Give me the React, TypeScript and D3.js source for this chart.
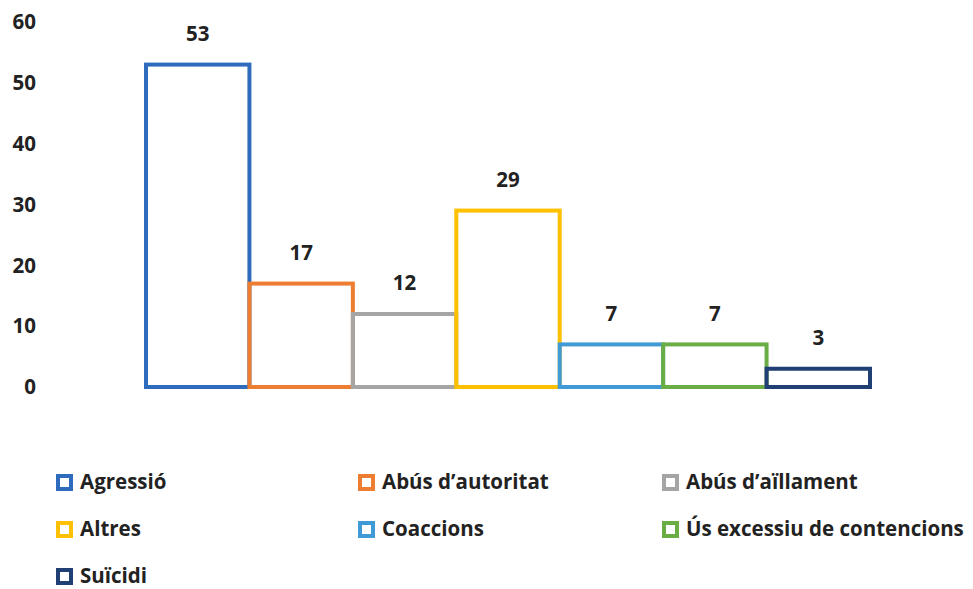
import React from "react";
import * as d3 from "d3";

const categories = ["Agressió", "Abús d’autoritat", "Abús d’aïllament", "Altres", "Coaccions", "Ús excessiu de contencions", "Suïcidi"];
const values = [53, 17, 12, 29, 7, 7, 3];
const colors = ["#2f6bbd", "#ed7d31", "#a5a5a5", "#ffc000", "#3f9ad6", "#6aad45", "#1f3f75"];
const yTicks = [0, 10, 20, 30, 40, 50, 60];

const W = 973, H = 589;
const font = "'Open Sans', 'Liberation Sans', sans-serif";
const fs = 20.5;

export default function App() {
  const x = d3.scaleBand<string>().domain(categories).range([146, 870]).paddingInner(0).paddingOuter(0);
  const y = d3.scaleLinear().domain([0, 60]).range([387, 22]);
  const legendCols = [56, 358, 662];
  const legendRows = [482, 529, 576];
  return (
    <svg width={W} height={H} style={{ position: "absolute", left: 0, top: 0, background: "#fff" }}>
      {yTicks.map((t) => (
        <text key={t} x={36} y={y(t)} dy="0.35em" textAnchor="end" fontFamily={font} fontWeight={700} fontSize={fs} fill="#222">
          {t}
        </text>
      ))}
      {categories.map((c, i) => (
        <g key={c}>
          <rect x={x(c)!} y={y(values[i])} width={x.bandwidth()} height={y(0) - y(values[i])} fill="none" stroke={colors[i]} strokeWidth={4} />
          <text x={x(c)! + x.bandwidth() / 2} y={y(values[i]) - 31} dy="0.35em" textAnchor="middle" fontFamily={font} fontWeight={700} fontSize={fs} fill="#222">
            {values[i]}
          </text>
        </g>
      ))}
      {categories.map((c, i) => {
        const lx = legendCols[i % 3];
        const ly = legendRows[Math.floor(i / 3)];
        return (
          <g key={"l" + c}>
            <rect x={lx + 2} y={ly - 6} width={13} height={13} fill="#fff" stroke={colors[i]} strokeWidth={4} />
            <text x={lx + 24} y={ly} dy="0.35em" fontFamily={font} fontWeight={700} fontSize={fs} fill="#222">
              {c}
            </text>
          </g>
        );
      })}
    </svg>
  );
}
